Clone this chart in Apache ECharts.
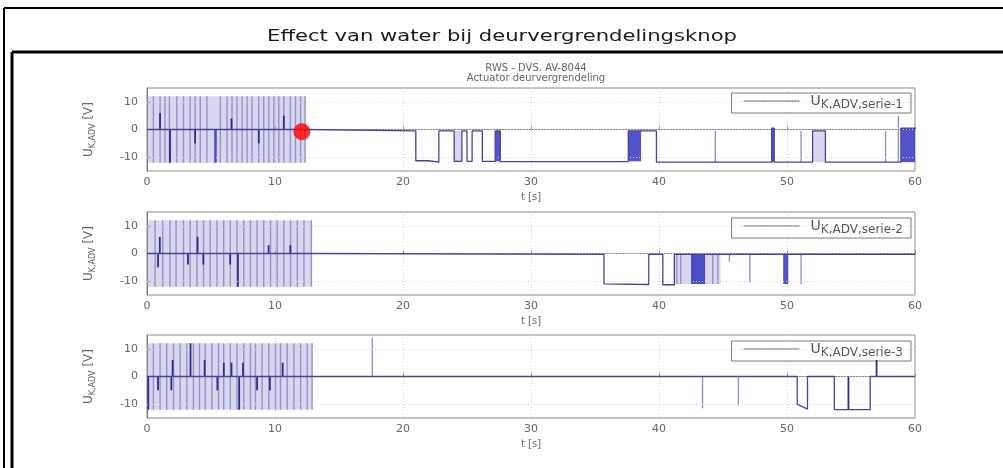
<!DOCTYPE html>
<html><head><meta charset="utf-8">
<script src="https://cdn.jsdelivr.net/npm/echarts@6/dist/echarts.min.js"></script>
<style>html,body{margin:0;padding:0;background:#fff}#c{width:1003px;height:468px}</style>
</head><body><div id="c"></div>
<script>
// ---------- texts ----------
const chartTitle = 'Effect van water bij deurvergrendelingsknop';
const plotTitle = ['RWS - DVS. AV-8044', 'Actuator deurvergrendeling'];
const seriesNames = ['serie-1', 'serie-2', 'serie-3'];
const xTicks = [0, 10, 20, 30, 40, 50, 60];
const yTicks = [-10, 0, 10];

// ---------- plot 1 ----------
// dense toggling regions [t0, t1, lo, hi]
const band1 = [[0, 12.4, -12, 12], [24.0, 24.6, -11.5, -0.5], [52.0, 53.0, -11.8, -0.5]];
const darkBand1 = [[5.25, 5.45, -12, 0], [27.2, 27.6, -11.5, -0.5], [37.6, 38.6, -11.5, -0.5], [48.8, 49.0, -11.8, 0.5], [58.9, 60, -11.8, 0.5]];
// single switching edges [t, lo, hi]
const pulses1 = [[0.5,-12,12],[1.02,-12,12],[1.41,-12,12],[1.75,-12,12],[2.33,-12,12],[2.85,-12,12],[3.37,-12,12],[3.76,-12,12],[4.16,-12,12],[4.68,-12,12],[5.73,-12,12],[6.25,-12,12],[6.64,-12,12],[7.03,-12,12],[7.43,-12,12],[7.82,-12,12],[8.21,-12,12],[8.73,-12,12],[9.12,-12,12],[9.52,-12,12],[9.91,-12,12],[10.3,-12,12],[10.69,-12,12],[11.2,-12,12],[11.6,-12,12],[12.0,-12,12],[12.35,-12,12],[44.4,-11.8,-0.5],[51.1,-11.8,-0.5],[57.7,-11.8,-0.5],[58.7,-11.8,5]];
const marks1 = [[1.02,0,6],[1.8,-12,0],[3.76,-5,0],[6.6,0,4],[8.73,-5,0],[10.69,0,5]];
const signal1 = [[0,0],[12.4,0],[12.4,-0.3],[21.0,-0.5],[21.0,-11.3],[22.0,-11.3],[22.0,-11.8],[22.8,-11.8],[22.8,-0.5],[24.0,-0.5],[24.0,-11.5],[24.6,-11.5],[24.6,-0.5],[25.0,-0.5],[25.0,-11.5],[25.4,-11.5],[25.4,-0.5],[26.2,-0.5],[26.2,-11.5],[27.2,-11.5],[27.2,-0.5],[27.6,-0.5],[27.6,-11.6],[37.6,-11.6],[37.6,-0.5],[39.8,-0.5],[39.8,-11.8],[48.8,-11.8],[48.8,0.5],[49.0,0.5],[49.0,-11.8],[52.0,-11.8],[52.0,-0.5],[53.0,-0.5],[53.0,-11.8],[58.9,-11.8],[58.9,0.5],[60,0.5]];
const redDot = [[12.1, -0.8]];

// ---------- plot 2 ----------
const band2 = [[0, 12.9, -12, 12], [41.2, 44.8, -11, -0.3]];
const darkBand2 = [[42.5, 43.6, -11, -0.3], [49.7, 50.1, -11, -0.3]];
const pulses2 = [[0.63,-12,12],[1.23,-12,12],[1.8,-12,12],[2.27,-12,12],[2.85,-12,12],[3.37,-12,12],[3.9,-12,12],[4.42,-12,12],[4.94,-12,12],[5.46,-12,12],[5.99,-12,12],[6.51,-12,12],[7.03,-12,12],[7.56,-12,12],[8.08,-12,12],[8.6,-12,12],[9.12,-12,12],[9.65,-12,12],[10.17,-12,12],[10.69,-12,12],[11.22,-12,12],[11.74,-12,12],[12.26,-12,12],[12.84,-12,12],[41.4,-11,-0.3],[41.7,-11,-0.3],[44.2,-11,-0.3],[44.6,-11,-0.3],[45.5,-3,-0.3],[47.1,-10.5,-0.3],[51.1,-11,-0.3]];
const marks2 = [[0.86,-5,0],[1.0,0,6],[3.2,-4,0],[3.95,0,6],[4.4,-4,0],[6.5,-4,0],[7.1,-12,0],[9.5,0,3],[11.2,0,3]];
const signal2 = [[0,0],[12.9,0],[12.9,-0.3],[35.7,-0.3],[35.7,-11],[39.2,-11.2],[39.2,-0.3],[40.3,-0.3],[40.3,-11.3],[41.2,-11.3],[41.2,-0.3],[60,-0.3]];

// ---------- plot 3 ----------
const band3 = [[0, 12.9, -12, 12]];
const darkBand3 = [];
const pulses3 = [[0.5,-12,12],[1.02,-12,12],[1.54,-12,12],[2.07,-12,12],[2.59,-12,12],[3.11,-12,12],[3.63,-12,12],[4.1,-12,12],[4.55,-12,12],[5.07,-12,12],[5.59,-12,12],[5.99,-12,12],[6.51,-12,12],[7.03,-12,12],[7.56,-12,12],[8.08,-12,12],[8.47,-12,12],[8.99,-12,12],[9.52,-12,12],[10.04,-12,12],[10.43,-12,12],[10.95,-12,12],[11.48,-12,12],[12.0,-12,12],[12.52,-12,12],[12.9,-12,12],[17.6,0,14],[43.4,-11.5,0],[46.2,-10.5,0]];
const marks3 = [[0.1,-12,0],[0.86,-5,0],[1.9,-5,0],[2.0,0,6],[3.4,0,12],[4.5,0,6],[5.5,-5,0],[6.0,0,5],[6.6,0,5],[7.2,-12,0],[7.5,0,5],[8.6,-5,0],[9.6,-5,0],[10.6,0,5],[54.8,-12,0],[57.0,0,6]];
const signal3 = [[0,0],[50.8,0],[50.8,-10],[51.6,-11.8],[51.6,0],[53.7,0],[53.7,-12],[56.5,-12],[56.5,0],[60,0]];

const bands = [band1, band2, band3];
const darkBands = [darkBand1, darkBand2, darkBand3];
const pulses = [pulses1, pulses2, pulses3];
const marks = [marks1, marks2, marks3];
const signals = [signal1, signal2, signal3];

// ---------- layout ----------
const gridTops = [88, 212, 335];
const gridH = 83;
const gridLeft = 147, gridRight = 88;
const legendTops = [93, 218, 341];

const chart = echarts.init(document.getElementById('c'), null, {renderer: 'canvas'});

function rectSeries(data, i, color, z) {
  return {
    type: 'custom', xAxisIndex: i, yAxisIndex: i, data: data, z: z, silent: true,
    encode: {x: [0, 1], y: [2, 3]},
    renderItem: function (params, api) {
      const p0 = api.coord([api.value(0), api.value(3)]);
      const p1 = api.coord([api.value(1), api.value(2)]);
      return {type: 'rect', shape: {x: p0[0], y: p0[1], width: Math.max(1, p1[0] - p0[0]), height: p1[1] - p0[1]}, style: {fill: color}};
    }
  };
}
function segSeries(data, i, color, w, z) {
  return {
    type: 'custom', xAxisIndex: i, yAxisIndex: i, data: data, z: z, silent: true,
    encode: {x: 0, y: [1, 2]},
    renderItem: function (params, api) {
      const a = api.coord([api.value(0), api.value(1)]);
      const b = api.coord([api.value(0), api.value(2)]);
      return {type: 'line', shape: {x1: a[0], y1: a[1], x2: b[0], y2: b[1]}, style: {stroke: color, lineWidth: w}};
    }
  };
}

const tickFont = {color: '#666', fontSize: 11, fontFamily: 'DejaVu Sans'};
const grids = [], xAxes = [], yAxes = [], series = [], legends = [];
for (let i = 0; i < 3; i++) {
  grids.push({left: gridLeft, right: gridRight, top: gridTops[i], height: gridH, show: true, borderColor: '#8a8a8a', borderWidth: 1, backgroundColor: '#fff'});
  xAxes.push({
    gridIndex: i, type: 'value', min: xTicks[0], max: xTicks[xTicks.length - 1], interval: 10,
    axisLine: {show: true, lineStyle: {color: '#8a8a8a'}},
    axisTick: {show: true, inside: true, length: 3, lineStyle: {color: '#8a8a8a'}},
    axisLabel: Object.assign({margin: 6}, tickFont),
    splitLine: {show: true, lineStyle: {color: '#d4d4d4', type: [1, 2]}},
    name: 't [s]', nameLocation: 'middle', nameGap: 21,
    nameTextStyle: {color: '#666', fontSize: 10, fontFamily: 'DejaVu Sans'}
  });
  yAxes.push({
    gridIndex: i, type: 'value', min: -15, max: 15, interval: 5,
    axisLine: {show: true, lineStyle: {color: '#777'}},
    axisTick: {show: true, inside: true, length: 3, customValues: yTicks, lineStyle: {color: '#8a8a8a'}},
    axisLabel: Object.assign({margin: 9, customValues: yTicks, formatter: v => (v % 10 === 0 ? String(v) : '')}, tickFont),
    splitLine: {show: false},
    name: '{u|U}{s|K,ADV}{u| [V]}', nameLocation: 'middle', nameGap: 50,
    nameTextStyle: {color: '#666', rich: {u: {fontSize: 12, color: '#666', fontFamily: 'DejaVu Sans'}, s: {fontSize: 8, color: '#666', fontFamily: 'DejaVu Sans', padding: [8, 0, 0, 0]}}}
  });
  series.push(rectSeries(bands[i], i, 'rgba(150,150,215,0.38)', 1));
  series.push(segSeries(pulses[i], i, '#9494c4', 1.4, 2));
  series.push(rectSeries(darkBands[i], i, 'rgba(40,40,190,0.8)', 3));
  series.push(segSeries(marks[i], i, '#2c2c8c', 1.8, 4));
  series.push({
    name: seriesNames[i], type: 'line', xAxisIndex: i, yAxisIndex: i, data: signals[i],
    showSymbol: false, symbol: 'none', z: 5, silent: true,
    lineStyle: {color: '#44449a', width: 1.3}, itemStyle: {color: '#44449a'},
    markLine: {silent: true, symbol: 'none', label: {show: false}, lineStyle: {color: '#d4d4d4', type: [1, 2], width: 1}, data: yTicks.map(v => ({yAxis: v}))}
  });
  legends.push({
    data: [seriesNames[i]], right: 92, top: legendTops[i], selectedMode: false,
    borderColor: '#7a7a7a', borderWidth: 1, backgroundColor: '#fff', padding: [1, 8, 2, 12],
    icon: 'rect', itemWidth: 56, itemHeight: 1, itemGap: 4,
    itemStyle: {color: '#666'},
    formatter: () => '{u|U}{s|K,ADV,serie-' + (i + 1) + '}',
    textStyle: {padding: [0, 0, 0, 6], rich: {u: {fontSize: 14, color: '#555', fontFamily: 'DejaVu Sans'}, s: {fontSize: 12, color: '#555', fontFamily: 'DejaVu Sans', padding: [8, 0, 0, 0]}}}
  });
}
series.push({type: 'scatter', xAxisIndex: 0, yAxisIndex: 0, data: redDot, symbolSize: 17, z: 10, silent: true, itemStyle: {color: '#ff0000'}});

chart.setOption({
  animation: false,
  backgroundColor: '#fff',
  title: {text: plotTitle.join('\n'), left: (gridLeft + (1003 - gridRight)) / 2, textAlign: 'center', top: 58,
    textStyle: {color: '#666', fontSize: 10, fontWeight: 'normal', lineHeight: 10, fontFamily: 'DejaVu Sans'}},
  grid: grids, xAxis: xAxes, yAxis: yAxes, legend: legends, series: series,
  graphic: [
    {type: 'line', shape: {x1: 4, y1: 8, x2: 1003, y2: 8}, style: {stroke: '#000', lineWidth: 2}, z: 100},
    {type: 'line', shape: {x1: 4, y1: 8, x2: 4, y2: 468}, style: {stroke: '#000', lineWidth: 2}, z: 100},
    {type: 'line', shape: {x1: 12, y1: 52, x2: 1003, y2: 52}, style: {stroke: '#000', lineWidth: 3}, z: 100},
    {type: 'line', shape: {x1: 12, y1: 52, x2: 12, y2: 468}, style: {stroke: '#000', lineWidth: 3}, z: 100},
    {type: 'text', x: 502, y: 37, scaleX: 1.32, style: {text: chartTitle, fill: '#1a1a1a', font: '16px "DejaVu Sans"', textAlign: 'center', textVerticalAlign: 'middle'}, z: 100}
  ]
});
</script></body></html>
